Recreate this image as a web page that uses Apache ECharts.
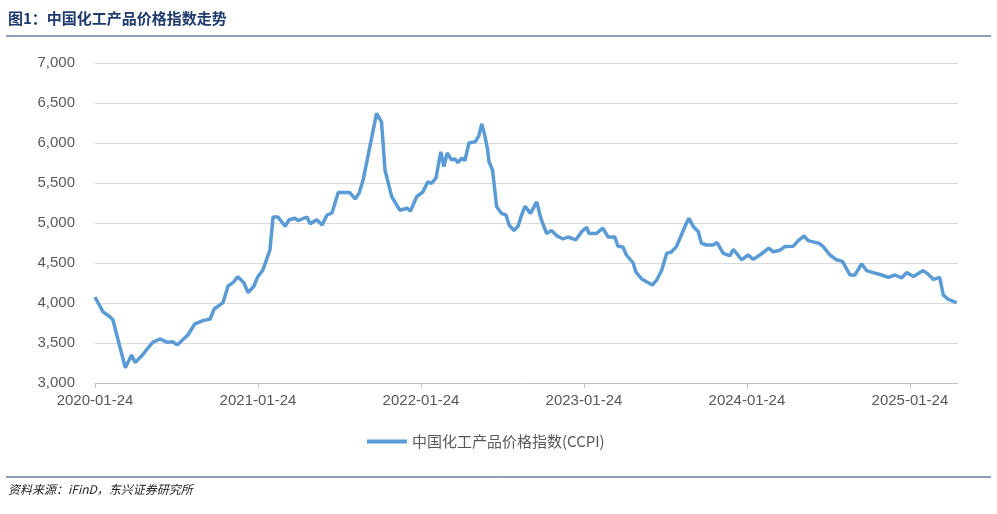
<!DOCTYPE html>
<html>
<head>
<meta charset="utf-8">
<script src="https://cdn.jsdelivr.net/npm/echarts@6/dist/echarts.min.js"></script>
<style>
  body { margin: 0; background: #fff; }
  #main { width: 997px; height: 514px; }
</style>
</head>
<body>
<div id="main"></div>
<script>
// CCPI readings
var dates = [
  "2020-01-24","2020-02-11","2020-02-27","2020-03-04","2020-04-01","2020-04-15","2020-04-23","2020-05-11",
  "2020-05-22","2020-06-02","2020-06-18","2020-07-03","2020-07-17","2020-07-26","2020-08-19","2020-09-04",
  "2020-09-22","2020-10-08","2020-10-17","2020-11-06","2020-11-17","2020-11-30","2020-12-09","2020-12-23",
  "2021-01-01","2021-01-14","2021-01-23","2021-02-03","2021-02-19","2021-02-26","2021-03-09","2021-03-25",
  "2021-04-03","2021-04-16","2021-04-23","2021-05-13","2021-05-20","2021-06-04","2021-06-16","2021-06-27",
  "2021-07-08","2021-07-22","2021-08-17","2021-08-29","2021-09-07","2021-09-16","2021-10-16","2021-10-27",
  "2021-11-04","2021-11-19","2021-12-07","2021-12-23","2021-12-31","2022-01-14","2022-01-28","2022-02-08",
  "2022-02-16","2022-02-26","2022-03-09","2022-03-16","2022-03-23","2022-04-02","2022-04-10","2022-04-16",
  "2022-04-25","2022-05-02","2022-05-11","2022-05-25","2022-06-02","2022-06-09","2022-06-16","2022-06-22",
  "2022-06-25","2022-07-03","2022-07-12","2022-07-23","2022-08-02","2022-08-09","2022-08-20","2022-08-29",
  "2022-09-06","2022-09-14","2022-09-26","2022-10-10","2022-10-19","2022-11-01","2022-11-12","2022-11-24",
  "2022-12-08","2022-12-19","2023-01-06","2023-01-19","2023-01-30","2023-02-04","2023-02-21","2023-03-07",
  "2023-03-19","2023-04-03","2023-04-10","2023-04-21","2023-04-29","2023-05-14","2023-05-20","2023-06-02",
  "2023-06-13","2023-06-26","2023-07-06","2023-07-17","2023-07-28","2023-08-08","2023-08-19","2023-08-27",
  "2023-09-07","2023-09-16","2023-09-26","2023-10-07","2023-10-14","2023-10-26","2023-11-09","2023-11-18",
  "2023-12-02","2023-12-17","2023-12-24","2024-01-01","2024-01-12","2024-01-27","2024-02-07","2024-02-22",
  "2024-03-13","2024-03-23","2024-04-07","2024-04-18","2024-05-07","2024-05-18","2024-05-31","2024-06-09",
  "2024-07-04","2024-07-13","2024-07-28","2024-08-12","2024-08-25","2024-09-11","2024-09-22","2024-10-07",
  "2024-10-18","2024-11-02","2024-11-21","2024-12-06","2024-12-21","2025-01-05","2025-01-16","2025-01-31",
  "2025-02-22","2025-03-05","2025-03-17","2025-03-31","2025-04-08","2025-04-19","2025-05-08"
];
var ccpi = [
  4075,3890,3825,3790,3190,3350,3255,3360,
  3440,3510,3550,3510,3515,3475,3600,3740,
  3780,3800,3925,4005,4210,4265,4330,4250,
  4130,4210,4330,4410,4660,5075,5075,4960,
  5040,5060,5030,5075,4990,5040,4975,5100,
  5125,5380,5380,5300,5375,5540,6370,6265,
  5660,5330,5160,5185,5150,5330,5390,5515,
  5495,5560,5890,5705,5875,5790,5800,5755,
  5810,5780,6000,6015,6090,6240,6080,5910,
  5765,5660,5205,5120,5100,4975,4905,4960,
  5100,5210,5120,5265,5060,4870,4905,4840,
  4800,4825,4790,4895,4945,4870,4870,4935,
  4825,4825,4710,4700,4600,4500,4390,4300,
  4265,4225,4290,4410,4620,4640,4705,4810,
  4955,5060,4955,4890,4745,4725,4725,4755,
  4620,4590,4670,4620,4540,4600,4545,4600,
  4685,4640,4660,4705,4710,4780,4840,4780,
  4745,4705,4600,4540,4520,4350,4350,4490,
  4405,4380,4350,4320,4350,4315,4380,4330,
  4405,4360,4295,4320,4100,4045,4005
];
var startDate = "2020-01-24";
var yTicks = [3000, 3500, 4000, 4500, 5000, 5500, 6000, 6500, 7000];

var DAY = 86400000;
var t0 = Date.parse(startDate + "T00:00:00Z");
var points = dates.map(function (d, i) {
  return [(Date.parse(d + "T00:00:00Z") - t0) / DAY, ccpi[i]];
});

var chart = echarts.init(document.getElementById("main"));
chart.setOption({
  animation: false,
  graphic: [
    { type: "text", left: 8, top: 11, style: { text: "图1：中国化工产品价格指数走势", fill: "#1f3b6e", font: "bold 15px 'Noto Sans CJK SC'" } },
    { type: "line", shape: { x1: 6, y1: 36, x2: 991, y2: 36 }, style: { stroke: "#1f3b6e", lineWidth: 1 } },
    { type: "line", shape: { x1: 6, y1: 477, x2: 991, y2: 477 }, style: { stroke: "#1f3b6e", lineWidth: 1 } },
    { type: "text", left: 8, top: 483, style: { text: "资料来源：iFinD，东兴证券研究所", fill: "#222", font: "italic 12px 'Noto Sans CJK SC'" } }
  ],
  grid: { left: 95, right: 39, top: 63, bottom: 131 },
  legend: {
    bottom: 60, left: 362,
    itemWidth: 40, itemHeight: 4,
    textStyle: { color: "#595959", fontSize: 15, fontFamily: "Noto Sans CJK SC" },
    data: [{ name: "中国化工产品价格指数(CCPI)", icon: "rect" }]
  },
  xAxis: {
    type: "value", min: 0, max: 1934, interval: 365.25,
    axisLine: { lineStyle: { color: "#bfbfbf" } },
    axisTick: { show: true, length: 5, lineStyle: { color: "#bfbfbf" } },
    splitLine: { show: false },
    axisLabel: {
      color: "#595959", fontSize: 15, fontFamily: "Liberation Sans", margin: 10,
      formatter: function (v) { return (2020 + Math.round(v / 365.25)) + "-01-24"; }
    }
  },
  yAxis: {
    type: "value", min: yTicks[0], max: yTicks[yTicks.length - 1], interval: 500,
    axisLine: { show: false }, axisTick: { show: false },
    splitLine: { lineStyle: { color: "#d9d9d9" } },
    axisLabel: {
      color: "#595959", fontSize: 15, fontFamily: "Liberation Sans", margin: 20,
      formatter: function (v) { return v.toLocaleString("en-US"); }
    }
  },
  series: [{
    name: "中国化工产品价格指数(CCPI)",
    type: "line", data: points, showSymbol: false,
    lineStyle: { color: "#5b9bd5", width: 3.5 },
    itemStyle: { color: "#5b9bd5" }
  }]
});
</script>
</body>
</html>
